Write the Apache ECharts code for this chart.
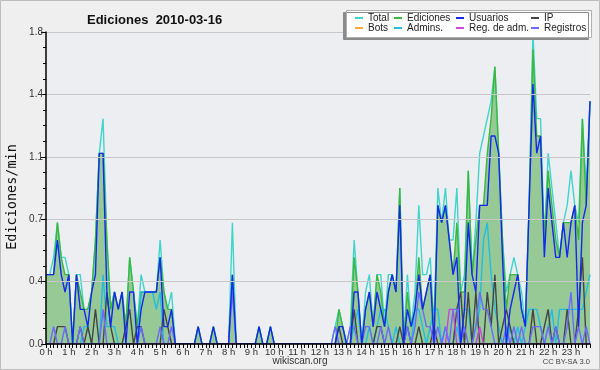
<!DOCTYPE html>
<html><head><meta charset="utf-8">
<script src="https://cdn.jsdelivr.net/npm/echarts@6/dist/echarts.min.js"></script>
<style>html,body{margin:0;padding:0;background:#efefef}#c{width:600px;height:370px}</style>
</head><body><div id="c"></div>
<script>
const hourLabels = ['0 h','1 h','2 h','3 h','4 h','5 h','6 h','7 h','8 h','9 h','10 h','11 h','12 h','13 h','14 h','15 h','16 h','17 h','18 h','19 h','20 h','21 h','22 h','23 h'];
const yTicks = [0, 0.36, 0.72, 1.08, 1.44, 1.8];

const total = [
 .4,.4,.5,.7,.5,.5,.4,0,.4,.4,.2,.2,
 .3,.6,1.1,1.3,.6,.2,.3,.2,.3,.1,.5,.3,
 .1,.4,.3,.3,.3,.3,.6,.3,.2,.3,0,0,
 0,0,0,0,.1,0,0,0,.1,0,0,0,
 0,.7,0,0,0,0,0,0,.1,0,0,.1,
 0,0,0,0,0,0,0,0,0,0,0,0,
 0,0,0,0,.1,.2,.1,0,.1,.6,.3,0,
 .3,.4,.1,.4,.4,.1,.4,.4,.3,.9,0,.4,
 .1,.3,.8,.4,.4,.5,.1,.9,.7,.9,.6,.6,
 .9,.3,.4,1.0,.4,.7,1.1,1.2,1.3,1.4,1.6,1.1,
 .6,.3,.4,.5,.4,.3,.1,.8,1.8,1.3,1.3,.6,
 1.1,.9,.7,.5,.7,.8,1.0,.8,.7,1.3,.9,1.4];
const ediciones = [
 .4,.4,.4,.7,.5,.4,.4,0,.4,.3,.2,.2,
 .3,.6,1.1,1.1,.6,.2,.3,.2,.3,.1,.5,.3,
 .1,.3,.3,.3,.3,.3,.5,.3,.2,.2,0,0,
 0,0,0,0,.1,0,0,0,.1,0,0,0,
 0,.4,0,0,0,0,0,0,.1,0,0,.1,
 0,0,0,0,0,0,0,0,0,0,0,0,
 0,0,0,0,0,.2,.1,0,0,.5,.3,0,
 .2,.3,.1,.4,.3,.1,.3,.4,.3,.9,0,.3,
 .1,.2,.5,.2,.3,.4,.1,.8,.7,.8,.6,.4,
 .7,.3,.3,1.0,.4,.6,.8,.8,1.1,1.3,1.6,1.1,
 .6,.2,.4,.4,.4,.2,.1,.8,1.7,1.2,1.2,.6,
 1.0,.8,.6,.5,.7,.7,.7,.8,.6,1.3,.8,1.4];
const usuarios = [
 .4,.4,.4,.6,.4,.3,.4,0,.4,.2,.2,.1,
 .3,.4,1.1,1.1,.3,.1,.3,.2,.3,0,.3,.3,
 0,.2,.3,.3,.3,.3,.5,.1,.1,.2,0,0,
 0,0,0,0,.1,0,0,0,.1,0,0,0,
 0,.4,0,0,0,0,0,0,.1,0,0,.1,
 0,0,0,0,0,0,0,0,0,0,0,0,
 0,0,0,0,0,.1,.1,0,0,.3,.3,0,
 .2,.3,.1,.3,.2,.1,.3,.4,.3,.8,0,.2,
 .1,.2,.4,.2,.3,.4,0,.8,.7,.8,.6,.4,
 .5,0,.2,.7,.4,.3,.8,.8,.8,1.2,1.2,1.1,
 .5,0,.2,.3,.4,.2,.1,.8,1.5,1.1,1.2,.5,
 .9,.7,.5,.5,.7,.5,.7,.8,.1,.7,.8,1.4];
const ip = [
 0,0,0,.1,.1,.1,0,0,0,.1,0,.1,
 0,.2,0,0,.3,.1,0,0,0,.1,.2,0,
 .1,.1,0,0,0,0,0,.2,.1,0,0,0,
 0,0,0,0,0,0,0,0,0,0,0,0,
 0,0,0,0,0,0,0,0,0,0,0,0,
 0,0,0,0,0,0,0,0,0,0,0,0,
 0,0,0,0,0,.1,0,0,0,.2,0,0,
 0,0,0,.1,.1,0,0,0,0,.1,0,.1,
 0,0,.1,0,0,0,.1,0,0,0,0,0,
 .2,.3,0,.3,0,.3,0,0,.3,.1,.4,0,
 .1,.2,.1,0,0,0,0,0,.2,0,0,.1,
 .2,0,.1,0,0,.2,0,0,.2,.5,0,0];
const bots = [];
const admins = [
 0,0,0,0,0,0,0,0,0,0,.1,.1,
 0,0,0,.4,.1,.1,.1,0,0,0,0,0,
 0,.3,.3,.3,.3,.2,.3,0,0,0,0,0,
 0,0,0,0,0,0,0,0,0,0,0,0,
 0,0,0,0,0,0,0,0,0,0,0,0,
 0,0,0,0,0,0,0,0,0,0,0,0,
 0,0,0,0,0,0,0,0,0,.1,.2,0,
 0,.1,0,.1,.2,.2,.1,0,.1,0,0,.1,
 0,.2,.2,.1,0,.1,.2,.2,0,.1,0,0,
 .1,0,.2,.2,0,.1,.2,.6,.7,.4,.2,.1,
 0,0,.1,0,.1,0,.1,.2,.2,.2,.1,0,
 .1,.2,0,.2,.2,.2,.2,.2,.2,.2,.3,.4];
const regAdm = [
 0,0,0,0,0,0,0,0,0,0,0,0,
 0,0,0,0,0,0,0,0,0,0,0,0,
 0,0,0,0,0,0,0,0,0,0,0,0,
 0,0,0,0,0,0,0,0,0,0,0,0,
 0,0,0,0,0,0,0,0,0,0,0,0,
 0,0,0,0,0,0,0,0,0,0,0,0,
 0,0,0,0,0,0,0,0,0,0,0,0,
 0,0,0,0,0,0,0,0,0,0,0,0,
 0,0,0,0,0,0,0,0,0,0,.2,.2,
 0,0,0,0,0,0,.1,0,0,0,0,0,
 0,0,0,0,0,0,0,0,0,0,0,0,
 0,0,0,0,0,0,0,0,0,0,0,0];
const registros = [
 0,0,.1,0,0,.1,0,0,0,.1,0,0,
 0,0,0,.2,0,0,0,0,0,0,0,0,
 0,.1,0,0,0,0,.1,0,0,.1,0,0,
 0,0,0,0,0,0,0,0,0,0,0,0,
 0,.3,0,0,0,0,0,0,0,0,0,0,
 0,0,0,0,0,0,0,0,0,0,0,0,
 0,0,0,0,.1,0,0,0,.1,.1,0,0,
 .1,.1,0,0,.1,0,.1,0,0,0,0,.1,
 0,.1,.3,.2,.1,.1,0,.1,0,.1,0,.2,
 .2,0,.1,0,0,.1,.3,.2,.2,.1,0,0,
 0,.1,0,.1,0,.1,0,0,.1,.1,.1,0,
 .1,0,.1,0,0,.1,.3,0,.1,0,.1,0];

const binLabels = [];
for (let h = 0; h < 24; h++) for (let m = 0; m < 60; m += 10) binLabels.push(h + ':' + (m < 10 ? '0' : '') + m);

const colors = {
  'Total': '#40d4cc', 'Ediciones': '#3cb83c', 'Usuarios': '#1428f0', 'IP': '#444444',
  'Bots': '#ffaa33', 'Admins.': '#22bde0', 'Reg. de adm.': '#cc44dd', 'Registros': '#6a6aff'
};
function line(name, data, extra) {
  return Object.assign({
    name, type: 'line', data, symbol: 'none', animation: false,
    lineStyle: { width: 1.4, color: colors[name] }, itemStyle: { color: colors[name] }
  }, extra || {});
}
const legendPos = [
  ['Total', 355, 13], ['Ediciones', 394, 13], ['Usuarios', 456, 13], ['IP', 531, 13],
  ['Bots', 355, 23], ['Admins.', 394, 23], ['Reg. de adm.', 456, 23], ['Registros', 531, 23]
];
const FONT = 'Liberation Sans';
const chart = echarts.init(document.getElementById('c'), null, { renderer: 'canvas' });
chart.setOption({
  backgroundColor: '#efefef',
  animation: false,
  title: { text: 'Ediciones  2010-03-16', left: 82, top: 9,
    textStyle: { fontFamily: FONT, fontSize: 13, fontWeight: 'bold', color: '#111' } },
  legend: legendPos.map(p => ({
    data: [p[0]], left: p[1], top: p[2], itemWidth: 8, itemHeight: 2, itemGap: 0,
    icon: 'rect', padding: 0, selectedMode: false, z: 20,
    textStyle: { fontFamily: FONT, fontSize: 10, color: '#222' }
  })),
  graphic: [
    { type: 'rect', z: 1, shape: { x: 0.5, y: 0.5, width: 599, height: 369 },
      style: { fill: null, stroke: '#bdbdbd', lineWidth: 1 } },
    { type: 'rect', z: 15, shape: { x: 346.5, y: 10.5, width: 245, height: 27 },
      style: { fill: '#ffffff', stroke: '#b0b0b0', lineWidth: 1,
        shadowColor: '#8a8a8a', shadowOffsetX: -3, shadowOffsetY: 2, shadowBlur: 0 } },
    { type: 'text', x: 12, y: 197, rotation: Math.PI / 2, z: 5,
      style: { text: 'Ediciones/min', fontFamily: 'DejaVu Sans Mono', fontSize: 13.5, fill: '#111',
        textAlign: 'center', textVerticalAlign: 'middle' } },
    { type: 'text', x: 300, y: 361, z: 5,
      style: { text: 'wikiscan.org', fontFamily: FONT, fontSize: 10, fill: '#333',
        textAlign: 'center', textVerticalAlign: 'middle' } },
    { type: 'text', x: 590, y: 362, z: 5,
      style: { text: 'CC BY-SA 3.0', fontFamily: FONT, fontSize: 7.5, fill: '#444',
        textAlign: 'right', textVerticalAlign: 'middle' } }
  ],
  grid: { left: 46, right: 10, top: 32, bottom: 26, show: true, backgroundColor: '#eceef1', borderWidth: 0 },
  xAxis: {
    type: 'category', data: binLabels, boundaryGap: false, z: 10,
    axisLine: { lineStyle: { color: '#000', width: 1.5 } },
    axisTick: { interval: 0, length: 4, lineStyle: { color: '#000' } },
    axisLabel: { interval: 5, margin: 3, fontFamily: FONT, fontSize: 9.5, color: '#333',
      formatter: (v, i) => hourLabels[Math.floor(i / 6)] },
    splitLine: { show: false }
  },
  yAxis: {
    type: 'value', min: yTicks[0], max: yTicks[yTicks.length - 1], interval: yTicks[1], z: 10,
    axisLine: { show: true, lineStyle: { color: '#000', width: 1.5 } },
    axisTick: { show: true, length: 5, lineStyle: { color: '#000' } },
    minorTick: { show: true, splitNumber: 4, length: 3, lineStyle: { color: '#000' } },
    axisLabel: { margin: 3, fontFamily: FONT, fontSize: 10, color: '#333',
      formatter: v => v.toFixed(1) },
    splitLine: { show: true, lineStyle: { color: '#c8c8c8', width: 1 } }
  },
  series: [
    line('Total', total),
    line('Ediciones', ediciones, { areaStyle: { color: '#96c996', opacity: 1 } }),
    line('Admins.', admins),
    line('IP', ip),
    line('Bots', bots),
    line('Reg. de adm.', regAdm),
    line('Registros', registros),
    line('Usuarios', usuarios)
  ]
});
</script></body></html>
